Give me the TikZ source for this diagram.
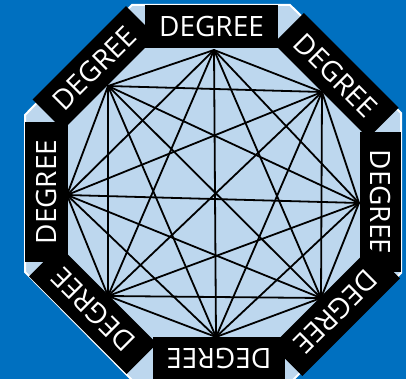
\documentclass[tikz,border=0pt]{standalone}
\usepackage{fontspec}
\newfontfamily\lblfont{Open Sans}
\definecolor{bgblue}{RGB}{0,112,192}
\definecolor{octfill}{RGB}{189,215,238}
\tikzset{
  lbl/.style={fill=black, text=white, inner sep=0pt, minimum height=43pt,
    font=\lblfont\fontsize{28}{28}\selectfont},
  edge/.style={line width=1.8pt, black},
}
\begin{document}
\begin{tikzpicture}[x=1pt,y=-1pt]
\fill[bgblue] (0,0) rectangle (406,379);
\useasboundingbox (0,0) rectangle (406,379);
\filldraw[fill=octfill, draw=white, line width=2pt]
  (132,5) -- (290,5) -- (401,113) -- (401,273) -- (293,380) -- (132,380) -- (25,272) -- (25,115) -- cycle;
% graph vertices
\coordinate (v1) at (214,50);
\coordinate (v2) at (322,92);
\coordinate (v3) at (359,203);
\coordinate (v4) at (321,298);
\coordinate (v5) at (216,337);
\coordinate (v6) at (108,296);
\coordinate (v7) at (67,195);
\coordinate (v8) at (108,86);
\foreach \i in {1,...,8}{
  \foreach \j in {1,...,8}{
    \ifnum\i<\j
      \draw[edge, line cap=round] (v\i) -- (v\j);
    \fi
  }
}
% labels
\node[lbl, minimum width=133pt] (top) at (211.5,27) {DEGREE};
\node[lbl, minimum width=140pt, minimum height=41pt, rotate=-90] (right) at (380.5,202) {DEGREE};
\node[lbl, minimum width=132pt, rotate=180] (bottom) at (219,358.5) {DEGREE};
\node[lbl, minimum width=140pt, rotate=90] (left) at (46.5,192) {DEGREE};
\node[lbl, minimum width=132pt, rotate=45] (tl) at (94.5,68) {DEGREE};
\node[lbl, minimum width=134pt, rotate=-45] (tr) at (336,75.5) {DEGREE};
\node[lbl, minimum width=138pt, rotate=-135] (br) at (336,312) {DEGREE};
\node[lbl, minimum width=138pt, rotate=135] (bl) at (93,310) {DEGREE};
\end{tikzpicture}
\end{document}
